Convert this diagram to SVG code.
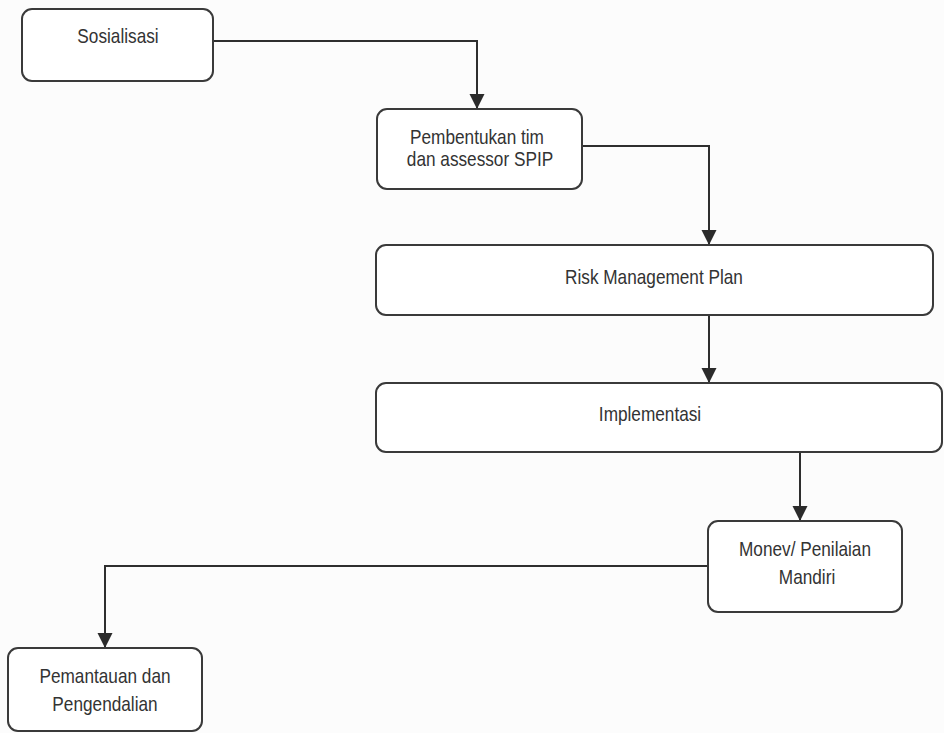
<svg xmlns="http://www.w3.org/2000/svg" width="944" height="733" viewBox="0 0 944 733">
  <defs>
    <marker id="arrow" markerUnits="userSpaceOnUse" markerWidth="16" markerHeight="16" viewBox="0 0 16 16" refX="15" refY="8" orient="auto">
      <path d="M0,0.5 L15,8 L0,15.5 Z" fill="#2b2b2b"/>
    </marker>
    <style>
      .box { fill: #ffffff; stroke: #3a3a3a; stroke-width: 2; }
      .edge { fill: none; stroke: #2e2e2e; stroke-width: 2; marker-end: url(#arrow); }
      .lbl { font-family: "Liberation Sans", Arial, sans-serif; font-size: 21px; fill: #333333; text-anchor: middle; }
    </style>
  </defs>

  <rect width="944" height="733" fill="#fcfcfc"/>

  <!-- connectors -->
  <g id="connectors">
    <path class="edge" d="M213,41 H477 V109"/>
    <path class="edge" d="M582,146 H709 V245"/>
    <path class="edge" d="M709,315 V383"/>
    <path class="edge" d="M800,452 V521"/>
    <path class="edge" d="M708,566 H105 V648"/>
  </g>

  <g id="sosialisasi">
    <rect class="box" x="22" y="9" width="191" height="72" rx="10"/>
    <text class="lbl" transform="translate(118,43) scale(0.82,1)">Sosialisasi</text>
  </g>

  <g id="pembentukan-tim">
    <rect class="box" x="377" y="109" width="205" height="80" rx="10"/>
    <text class="lbl" transform="translate(477,144) scale(0.82,1)">Pembentukan tim</text>
    <text class="lbl" transform="translate(480,166) scale(0.82,1)">dan assessor SPIP</text>
  </g>

  <g id="risk-management-plan">
    <rect class="box" x="376" y="245" width="557" height="70" rx="10"/>
    <text class="lbl" transform="translate(654,284) scale(0.82,1)">Risk Management Plan</text>
  </g>

  <g id="implementasi">
    <rect class="box" x="376" y="383" width="566" height="69" rx="10"/>
    <text class="lbl" transform="translate(650,421) scale(0.82,1)">Implementasi</text>
  </g>

  <g id="monev">
    <rect class="box" x="708" y="521" width="194" height="91" rx="10"/>
    <text class="lbl" transform="translate(805,556) scale(0.82,1)">Monev/ Penilaian</text>
    <text class="lbl" transform="translate(807,584) scale(0.82,1)">Mandiri</text>
  </g>

  <g id="pemantauan">
    <rect class="box" x="8" y="648" width="194" height="83" rx="10"/>
    <text class="lbl" transform="translate(105,683) scale(0.82,1)">Pemantauan dan</text>
    <text class="lbl" transform="translate(105,711) scale(0.82,1)">Pengendalian</text>
  </g>
</svg>
